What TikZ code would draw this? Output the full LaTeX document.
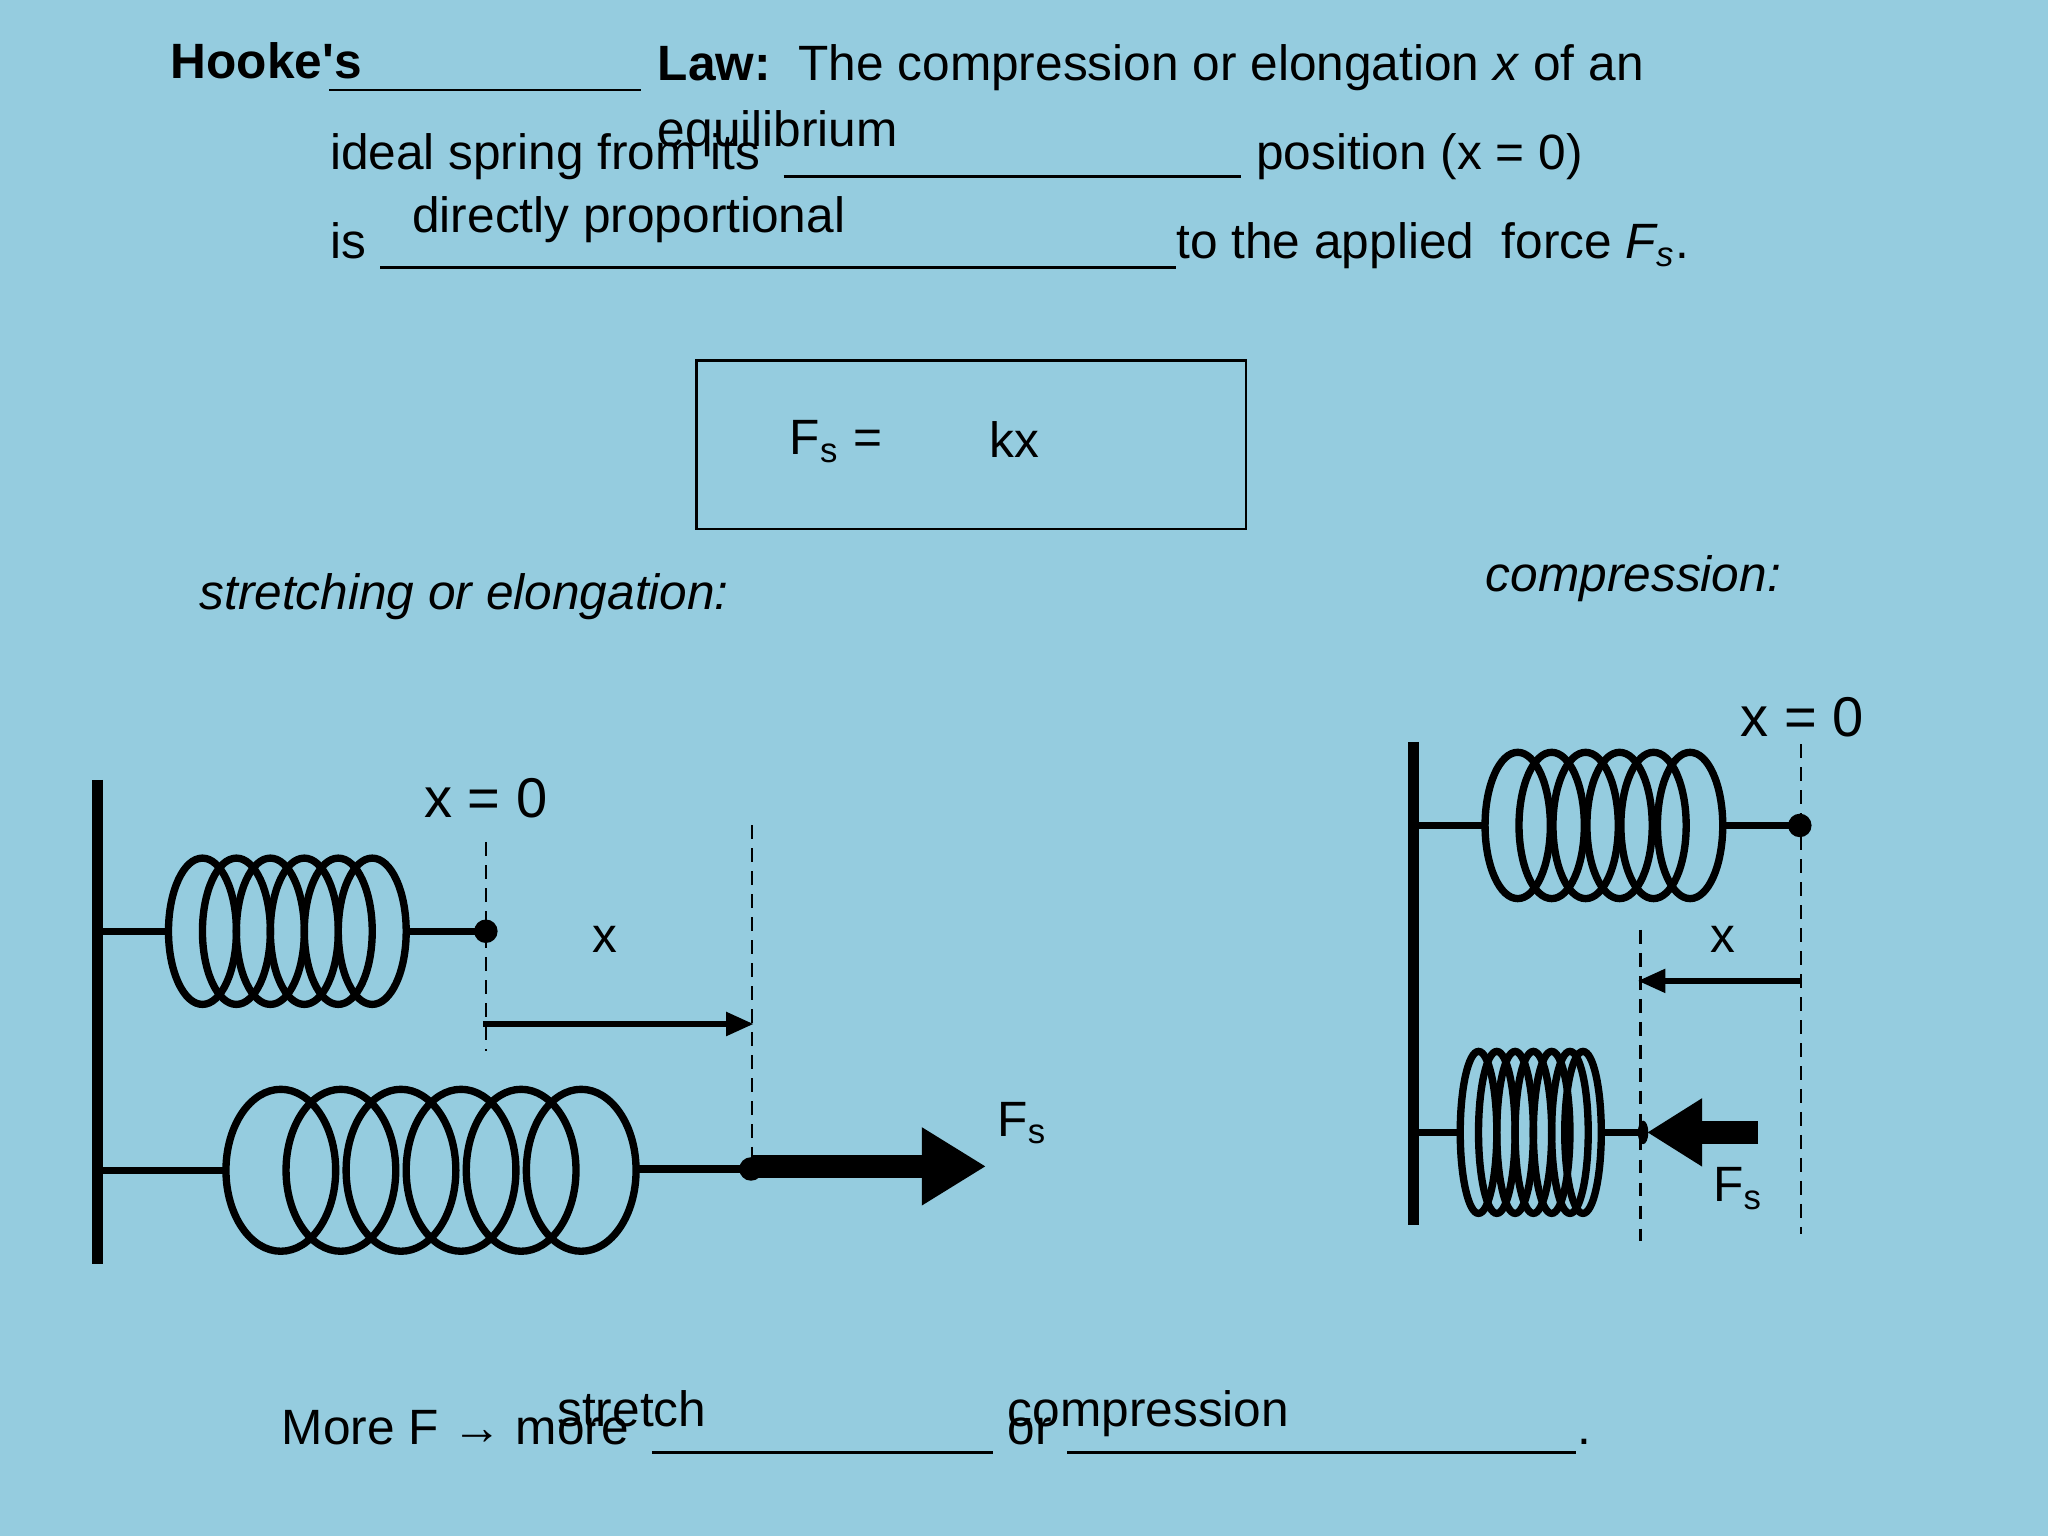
\documentclass[tikz,border=0pt]{standalone}
\usepackage{fontspec}
\setmainfont{Liberation Sans}
\usetikzlibrary{arrows.meta}
\begin{document}
\begin{tikzpicture}[x=0.01cm,y=-0.01cm,
  txt/.style={anchor=base west,inner sep=0,font=\fontsize{10.8}{12}\selectfont},
  big/.style={anchor=base,inner sep=0,font=\fontsize{12.2}{14}\selectfont},
  ul/.style={line width=0.6pt},
  coil/.style={line width=1.6pt},
  wall/.style={line width=2.4pt},
  dsh/.style={line width=0.5pt,dash pattern=on 3pt off 2pt}]
\fill[fill={rgb,255:red,149;green,204;blue,223}] (0,0) rectangle (1568,1176);
\useasboundingbox (0,0) rectangle (1568,1176);
% header text
\node[txt] (h1) at (130,60) {\bfseries Hooke\textquotesingle s};
\draw[ul] (252,69) -- (491,69);
\node[txt] (h2) at (503,62) {\textbf{Law:}\ \ The compression or elongation \textit{x} of an};
\node[txt] (l2a) at (252,130) {ideal spring from its};
\node[txt] (l2b) at (503,112) {equilibrium};
\draw[ul] (600,135) -- (950,135);
\node[txt] (l2c) at (961,130) {position (x = 0)};
\node[txt] (l3a) at (252,198) {is};
\node[txt] (l3b) at (315,178) {directly proportional};
\draw[ul] (291,205) -- (900,205);
\node[txt] (l3c) at (900,198) {to the applied\ \ force \textit{F\textsubscript{s}}.};
% box
\draw[line width=0.6pt] (533,276) rectangle (954,405);
\node[txt] (fs) at (604,348) {F\textsubscript{s} =};
\node[txt] (kx) at (757,350) {kx};
\node[txt] (st) at (152,467) {\itshape stretching or elongation:};
\node[txt] (cp) at (1137,453) {\itshape compression:};
% left diagram
\draw[wall] (75,597) -- (75,968);
\foreach \c in {155,181,207,233,259,285} \draw[coil] (\c,713) ellipse (26 and 56);
\draw[coil] (75,713) -- (129,713);
\draw[coil] (311,713) -- (372,713);
\fill (372,713) circle (9);
\node[big] (x0a) at (372,626) {x = 0};
\draw[dsh] (372,645) -- (372,805);
\draw[dsh] (576,632) -- (576,890);
\draw[line width=1.2pt,-{Triangle[length=6pt,width=5pt]}] (370,784) -- (577,784);
\node[txt] (xa) at (453,729) {x};
\foreach \c in {215,261,307,353,399,445} \draw[coil] (\c,896) ellipse (42 and 62);
\draw[coil] (75,896) -- (172,896);
\draw[coil] (486,895) -- (575,895);
\fill (575,895) circle (9);
\draw[line width=5pt,-{Triangle[length=14pt,width=16pt]}] (575,893) -- (755,893);
\node[txt] (fsa) at (763,870) {F\textsubscript{s}};
% right diagram
\draw[wall] (1082,568) -- (1082,938);
\foreach \c in {1162,1188,1214,1240,1266,1294} \draw[coil] (\c,632) ellipse (25 and 56);
\draw[coil] (1082,632) -- (1137,632);
\draw[coil] (1319,632) -- (1378,632);
\fill (1378,632) circle (9);
\node[big] (x0b) at (1380,564) {x = 0};
\draw[dsh] (1379,570) -- (1379,945);
\draw[dsh] (1256,712) -- (1256,950);
\draw[line width=1.2pt,-{Triangle[length=6pt,width=5pt]}] (1379,751) -- (1254,751);
\node[txt] (xb) at (1309,729) {x};
\foreach \c in {1132,1146,1160,1174,1188,1202,1212} \draw[coil] (\c,867) ellipse (14 and 62);
\draw[coil] (1082,867) -- (1118,867);
\draw[coil] (1226,867) -- (1258,867);
\fill (1258,867) ellipse (4 and 9);
\draw[line width=5pt,-{Triangle[length=12pt,width=14pt]}] (1346,867) -- (1261,867);
\node[txt] (fsb) at (1311,920) {F\textsubscript{s}};
% bottom
\node[txt] (m1) at (215,1106) {More F → more};
\node[txt] (m2) at (426,1092) {stretch};
\draw[ul] (499,1112) -- (760,1112);
\node[txt] (m3) at (771,1106) {or};
\node[txt] (m4) at (771,1092) {compression};
\draw[ul] (817,1112) -- (1207,1112);
\node[txt] (m5) at (1207,1106) {.};
\end{tikzpicture}
\end{document}
